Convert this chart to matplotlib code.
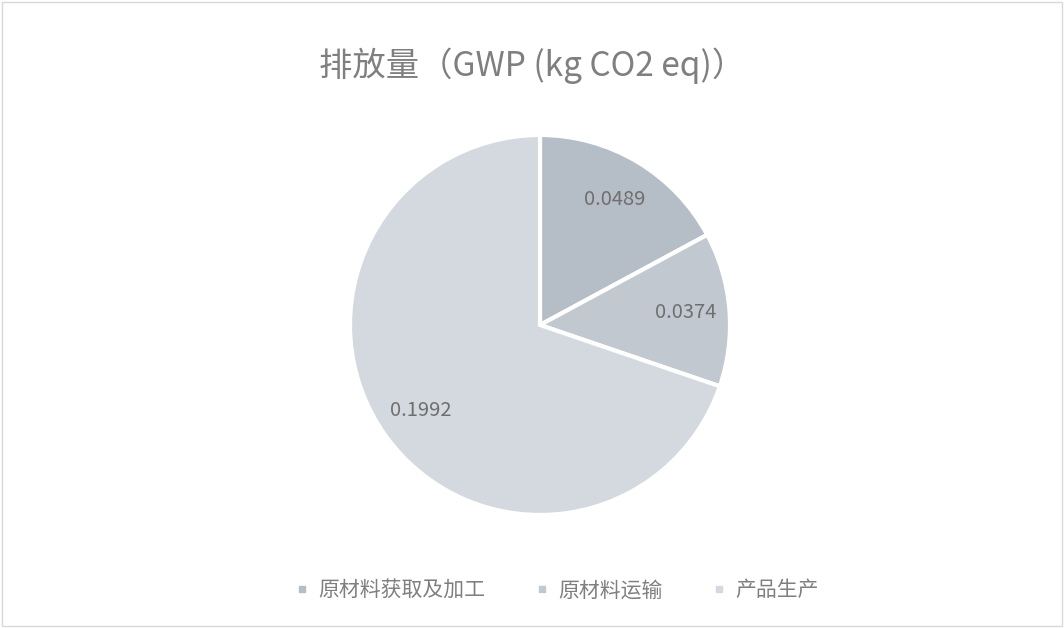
import matplotlib.pyplot as plt
from matplotlib.lines import Line2D
from matplotlib.patches import Rectangle

plt.rcParams["font.family"] = ["Noto Sans CJK SC", "DejaVu Sans"]

# data
stages = ["原材料获取及加工", "原材料运输", "产品生产"]
gwp = [0.0489, 0.0374, 0.1992]
value_labels = ["0.0489", "0.0374", "0.1992"]

# colors
slice_colors = ["#b5bdc6", "#c1c8cf", "#d4d9df"]
text_gray = "#7f7f7f"

fig = plt.figure(figsize=(10.64, 6.28), dpi=100)
fig.patches.append(Rectangle((0.002, 0.003), 0.996, 0.994, transform=fig.transFigure,
                             fill=False, edgecolor="#d9d9d9", linewidth=1))

cx, cy, r = 540, 325, 190
ax = fig.add_axes([(cx - r) / 1064, (628 - cy - r) / 628, 2 * r / 1064, 2 * r / 628])
wedges, texts = ax.pie(
    gwp,
    labels=value_labels,
    colors=slice_colors,
    startangle=90,
    counterclock=False,
    labeldistance=0.77,
    wedgeprops=dict(edgecolor="white", linewidth=3),
    textprops=dict(color="#6f6f6f", fontsize=14.5, ha="center", va="center"),
)
ax.set_xlim(-1.0, 1.0)
ax.set_ylim(-1.0, 1.0)

fig.text(0.5, 0.895, "排放量（GWP (kg CO2 eq)）", ha="center", va="center",
         fontsize=24, color=text_gray)

handles = [Line2D([], [], marker="s", linestyle="none", markersize=5,
                  markerfacecolor=c, markeredgecolor=c) for c in slice_colors]
fig.legend(handles, stages, loc="center", bbox_to_anchor=(0.522, 0.06), ncol=3,
           frameon=False, fontsize=15, labelcolor=text_gray, handletextpad=0.3,
           handlelength=1.0, columnspacing=2.2)

plt.savefig("out.png", dpi=100)
